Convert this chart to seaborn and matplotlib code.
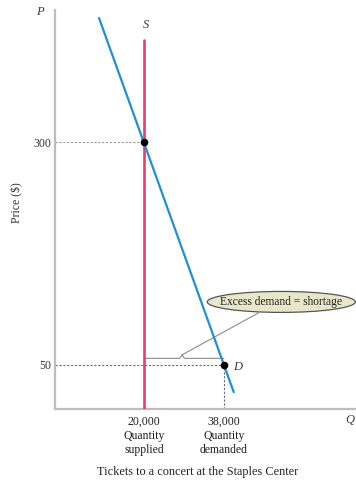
import matplotlib
matplotlib.use("Agg")
import matplotlib.pyplot as plt
from matplotlib.patches import Ellipse
import seaborn as sns
import pandas as pd

# Market for concert tickets with a price ceiling
price_levels = [300, 50]
quantity_ticks = [20000, 38000]
quantity_tick_labels = ["20,000\nQuantity\nsupplied", "38,000\nQuantity\ndemanded"]

demand_q = [9900, 40200]
demand_p = [440, 19]

supply_q = [20000, 20000]
supply_p = [0, 415]

point_q = [20000, 38000]
point_p = [300, 50]

sns.set_theme(style="white")
plt.rcParams["font.family"] = ["Liberation Serif", "DejaVu Serif"]

blue = "#1f8fd8"
red = "#ec3b6e"
grey = "#bdbdbd"
dark = "#3a3a3a"

fig = plt.figure(figsize=(3.56, 4.82), dpi=100)
ax = fig.add_axes([55 / 356, 73 / 482, 301 / 356, 399 / 482])

demand = pd.DataFrame({"q": demand_q, "p": demand_p})
supply = pd.DataFrame({"q": supply_q, "p": supply_p})
points = pd.DataFrame({"q": point_q, "p": point_p})

# reference dashes
ax.plot([0, point_q[0]], [point_p[0], point_p[0]], ls=(0, (2, 1.5)), color="#9a9a9a", lw=0.8, zorder=1)
ax.plot([0, point_q[1]], [point_p[1], point_p[1]], ls=(0, (2, 1.5)), color="#6a6a6a", lw=0.8, zorder=1)
ax.plot([point_q[1], point_q[1]], [0, point_p[1]], ls=(0, (2, 1.5)), color="#6a6a6a", lw=0.8, zorder=1)

sns.lineplot(data=supply, x="q", y="p", color=red, lw=1.9, ax=ax, sort=False,
             estimator=None, errorbar=None, zorder=3)
sns.lineplot(data=demand, x="q", y="p", color=blue, lw=1.6, ax=ax, sort=False,
             estimator=None, errorbar=None, zorder=4)
sns.scatterplot(data=points, x="q", y="p", color="black", s=30, ax=ax, zorder=5, linewidth=0)

# shortage bracket
yb = 57
hump = 28600
ax.plot([point_q[0], hump - 500, hump, hump + 500, point_q[1]],
        [yb, yb, yb + 4, yb, yb], color="#8a8a8a", lw=0.8, zorder=2)
ax.plot([hump, 45700], [yb + 4, 108], color="#8a8a8a", lw=0.8, zorder=2)

ell = Ellipse((50900, 120.5), 33300, 23.6, facecolor="#e9e7c9", edgecolor="#555555", lw=0.9, zorder=6, clip_on=False)
ax.add_patch(ell)
ax.text(50900, 120.5, "Excess demand = shortage", ha="center", va="center", fontsize=8.3, color="#222222", zorder=7)

ax.text(20400, 425, "S", fontsize=9, style="italic", color=dark, ha="center", va="bottom")
ax.text(41000, 47, "D", fontsize=9, style="italic", color=dark, ha="center", va="center")

ax.set_xlim(0, 67700)
ax.set_ylim(0, 449)
ax.set_xticks(quantity_ticks)
ax.set_xticklabels(quantity_tick_labels, fontsize=8.5, color="#222222", linespacing=1.25)
ax.set_yticks(price_levels)
ax.set_yticklabels([str(v) for v in price_levels], fontsize=8.5, color="#333333")
ax.tick_params(axis="x", length=0, pad=5)
ax.tick_params(axis="y", length=0, pad=3)
ax.set_xlabel("")
ax.set_ylabel("")

for side in ["top", "right"]:
    ax.spines[side].set_visible(False)
for side in ["left", "bottom"]:
    ax.spines[side].set_color(grey)
    ax.spines[side].set_linewidth(1.6)

fig.text(40 / 356, 1 - 12 / 482, "P", fontsize=9, style="italic", color=dark, ha="center", va="center")
fig.text(350 / 356, 1 - 420 / 482, "Q", fontsize=9, style="italic", color=dark, ha="center", va="center")
fig.text(17 / 356, 1 - 203 / 482, "Price ($)", fontsize=8.5, rotation=90, color="#333333", ha="center", va="center")
fig.text(198 / 356, 1 - 472 / 482, "Tickets to a concert at the Staples Center", fontsize=8.8, color="#222222", ha="center", va="center")

fig.savefig("out.png", dpi=100)
